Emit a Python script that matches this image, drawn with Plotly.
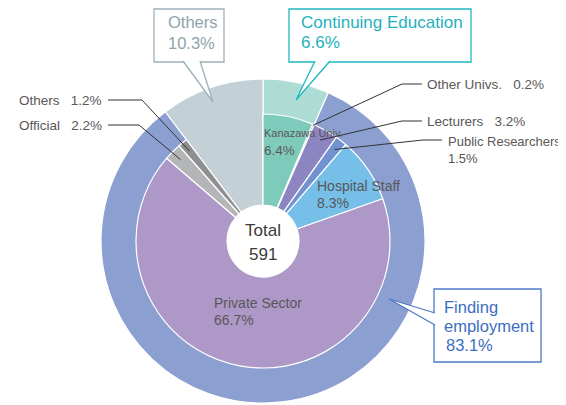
import math
import plotly.graph_objects as go

# ---- data ----
inner_labels = ["Kanazawa Univ.", "Other Univs.", "Lecturers", "Public Researchers",
                "Hospital Staff", "Private Sector", "Official", "Others", "Others "]
inner_values = [6.4, 0.2, 3.2, 1.5, 8.3, 66.7, 2.2, 1.2, 10.3]
inner_colors = ["#7fcbbb", "#6aa9a3", "#8d85c1", "#7291d0", "#75bfe9",
                "#ae98c8", "#b4b5b7", "#8f8f91", "rgba(0,0,0,0)"]

outer_labels = ["Continuing Education", "Finding employment", "Others"]
outer_values = [6.6, 83.1, 10.3]
outer_colors = ["#addcd4", "#8b9fd1", "#c3d0d6"]

total = 591

# ---- geometry (pixels of the 566x405 window; page body has an 8px margin) ----
OFF = 8
W, H = 566 - OFF, 405 - OFF
CX, CY = 263, 241
R_OUT, R_IN, R_HOLE = 162, 127, 36


def fx(x):
    return (x - OFF) / W


def fy(y):
    return 1 - (y - OFF) / H


def polar(pct, r):
    # pct: cumulative percent, clockwise from 12 o'clock
    a = math.radians(pct * 3.6)
    return CX + r * math.sin(a), CY - r * math.cos(a)


def mid(i):
    return sum(inner_values[:i]) + inner_values[i] / 2


def path(points):
    return "M " + " L ".join(f"{fx(x):.5f},{fy(y):.5f}" for x, y in points)


TXT = "#595757"
FONT = "Liberation Sans, Arial, sans-serif"

fig = go.Figure()

fig.add_trace(go.Pie(
    labels=outer_labels, values=outer_values, sort=False, direction="clockwise",
    marker=dict(colors=outer_colors, line=dict(color="white", width=1.2)),
    hole=R_HOLE / R_OUT, textinfo="none", showlegend=False,
    domain=dict(x=[fx(CX - R_OUT), fx(CX + R_OUT)], y=[fy(CY + R_OUT), fy(CY - R_OUT)]),
))

fig.add_trace(go.Pie(
    labels=inner_labels, values=inner_values, sort=False, direction="clockwise",
    marker=dict(colors=inner_colors,
                line=dict(color="white", width=[1.2] * 8 + [0])),
    hole=R_HOLE / R_IN, textinfo="none", showlegend=False,
    domain=dict(x=[fx(CX - R_IN), fx(CX + R_IN)], y=[fy(CY + R_IN), fy(CY - R_IN)]),
))

shapes = []
annotations = []


def text(x, y, s, size=13.5, color=TXT, xanchor="left"):
    annotations.append(dict(
        x=fx(x), y=fy(y), xref="paper", yref="paper", text=s, showarrow=False,
        xanchor=xanchor, yanchor="middle", align="left",
        font=dict(family=FONT, size=size, color=color),
    ))


# leader lines for small slices: (slice index, label y, line start x, knee x)
leaders = [
    (1, 84, 422, 402),
    (2, 121, 422, 402),
    (3, 140, 442, 423),
    (7, 100, 108, 142),
    (6, 125, 108, 139),
]
for i, ly, x0, xk in leaders:
    tip = polar(mid(i), 126 if i == 1 else 116)
    shapes.append(dict(type="path", path=path([(x0, ly), (xk, ly), tip]),
                       xref="paper", yref="paper", line=dict(color="#333333", width=1)))

SP = "&nbsp;&nbsp;&nbsp;"
text(425, 84, f"Other Univs.{SP}{inner_values[1]}%")
text(425, 121, f"Lecturers{SP}{inner_values[2]}%")
text(446, 141, "Public Researchers", size=13)
text(446, 158, f"{inner_values[3]}%", size=13)
text(104, 100, f"Others{SP}{inner_values[7]}%", xanchor="right")
text(104, 125, f"Official{SP}{inner_values[6]}%", xanchor="right")

# labels inside slices
text(262, 133, "Kanazawa Univ.", size=11)
text(262, 151, f"{inner_values[0]}%", size=13.5)
text(315, 186, "Hospital Staff", size=14)
text(315, 203, f"{inner_values[4]}%", size=14)
text(212, 303, "Private Sector", size=14)
text(212, 320, f"{inner_values[5]}%", size=14)

# centre
text(CX, 230, "Total", size=17, color="#3e3a39", xanchor="center")
text(CX, 254, str(total), size=17, color="#3e3a39", xanchor="center")

# callout boxes with tails
callouts = [
    # box (x0, y0, x1, y1), tail base pts, tip, border colour, text colour, lines, size
    ((154, 9, 224, 62), [(183, 61), (200, 61)], (213, 102), "#9db1b9", "#8ea4ad",
     [(166, 22, "Others"), (166, 43, f"{outer_values[2]}%")], 16.5),
    ((289, 9, 471, 62), [(315, 61), (330, 61)], (296, 100), "#1fb7c1", "#1fb2bd",
     [(299, 23, "Continuing Education"), (299, 43, f"{outer_values[0]}%")], 17),
    ((434, 289, 541, 362), [(435, 313), (435, 325)], (389, 299), "#4d79c6", "#3c6ec1",
     [(442, 307, "Finding"), (442, 326, "employment"), (444, 345, f"{outer_values[1]}%")], 16.5),
]
for (x0, y0, x1, y1), base, tip, bc, tc, lines, size in callouts:
    shapes.append(dict(type="rect", xref="paper", yref="paper",
                       x0=fx(x0), x1=fx(x1), y0=fy(y1), y1=fy(y0),
                       fillcolor="white", line=dict(color=bc, width=1.3)))
    shapes.append(dict(type="path", xref="paper", yref="paper",
                       path=path([base[0], tip, base[1]]),
                       fillcolor="white", line=dict(color=bc, width=1.3)))
    for lx, ly, s in lines:
        text(lx, ly, s, size=size, color=tc)

fig.update_layout(
    width=W, height=H, margin=dict(l=0, r=0, t=0, b=0),
    paper_bgcolor="white", plot_bgcolor="white",
    shapes=shapes, annotations=annotations,
)

fig.write_html("out.html")
